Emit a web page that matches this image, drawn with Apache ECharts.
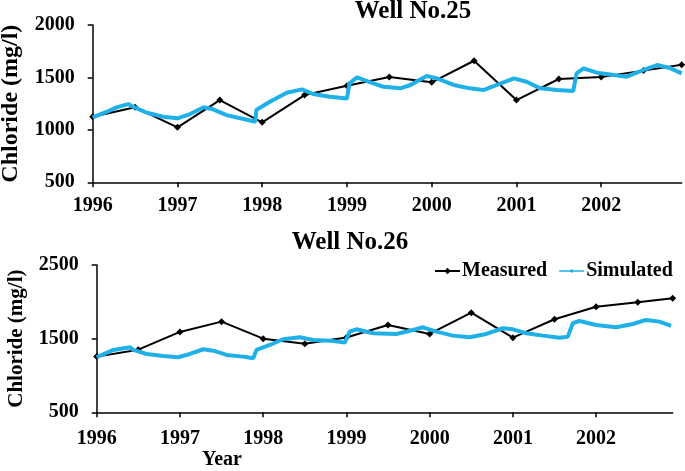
<!DOCTYPE html>
<html>
<head>
<meta charset="utf-8">
<script src="https://cdn.jsdelivr.net/npm/echarts@6/dist/echarts.min.js"></script>
<style>
html,body{margin:0;padding:0;background:#fff;}
#c{width:685px;height:471px;}
</style>
</head>
<body>
<div id="c"></div>
<script>
// ---- data ----
const xTickLabels = [1996, 1997, 1998, 1999, 2000, 2001, 2002];

const measYears25 = [1996, 1996.5, 1997, 1997.5, 1998, 1998.5, 1999, 1999.5, 2000, 2000.5, 2001, 2001.5, 2002, 2002.5, 2002.95];
const measured25 = [1125, 1215, 1024, 1284, 1072, 1332, 1421, 1505, 1453, 1659, 1284, 1485, 1504, 1565, 1620];

const simYears25 = [1996.0, 1996.17, 1996.28, 1996.42, 1996.46, 1996.64, 1996.83, 1997.0, 1997.15, 1997.31, 1997.42, 1997.58, 1997.78, 1997.92, 1997.93, 1998.09, 1998.29, 1998.47, 1998.6, 1998.8, 1999.0, 1999.03, 1999.12, 1999.27, 1999.43, 1999.63, 1999.75, 1999.94, 2000.06, 2000.26, 2000.45, 2000.61, 2000.77, 2000.97, 2001.12, 2001.28, 2001.48, 2001.67, 2001.71, 2001.79, 2001.95, 2002.15, 2002.3, 2002.5, 2002.66, 2002.82, 2002.95];
const simulated25 = [1119, 1173, 1215, 1246, 1227, 1163, 1125, 1110, 1151, 1215, 1196, 1141, 1103, 1078, 1189, 1268, 1354, 1386, 1342, 1316, 1300, 1444, 1501, 1455, 1411, 1396, 1428, 1513, 1491, 1428, 1396, 1380, 1428, 1491, 1459, 1396, 1380, 1370, 1539, 1587, 1545, 1523, 1507, 1571, 1618, 1587, 1539];

const measYears26 = [1996, 1996.5, 1997, 1997.5, 1998, 1998.5, 1999, 1999.5, 2000, 2000.5, 2001, 2001.5, 2002, 2002.5, 2002.92];
const measured26 = [1256, 1350, 1591, 1731, 1500, 1430, 1515, 1686, 1564, 1853, 1513, 1763, 1934, 1994, 2048];

const simYears26 = [1996.0, 1996.2, 1996.4, 1996.44, 1996.6, 1996.8, 1996.98, 1997.12, 1997.28, 1997.4, 1997.56, 1997.76, 1997.88, 1997.92, 1998.08, 1998.24, 1998.44, 1998.6, 1998.8, 1998.98, 1999.04, 1999.12, 1999.32, 1999.6, 1999.8, 1999.92, 2000.08, 2000.28, 2000.48, 2000.68, 2000.88, 2001.0, 2001.16, 2001.36, 2001.56, 2001.66, 2001.72, 2001.8, 2002.0, 2002.24, 2002.44, 2002.6, 2002.76, 2002.9];
const simulated26 = [1247, 1347, 1383, 1347, 1292, 1265, 1247, 1292, 1356, 1337, 1279, 1256, 1234, 1347, 1414, 1492, 1519, 1482, 1473, 1446, 1595, 1627, 1573, 1564, 1618, 1654, 1595, 1541, 1519, 1564, 1641, 1627, 1573, 1541, 1513, 1527, 1709, 1740, 1686, 1654, 1699, 1754, 1731, 1672];

// ---- chart ----
const FONT = '"Liberation Serif", "Times New Roman", serif';
const BLUE = '#1fb0e8';
const zip = (xs, ys) => xs.map((x, i) => [x, ys[i]]);
const plain = v => String(Math.round(v));

function mkX(idx, max, margin) {
  return {
    type: 'value', gridIndex: idx, min: 1996, max: max,
    axisLine: {show: true, lineStyle: {color: '#000', width: 1.5}},
    axisTick: {show: true, inside: false, length: 5, lineStyle: {color: '#000', width: 1.5}, customValues: xTickLabels},
    axisLabel: {show: true, margin: margin, fontFamily: FONT, fontSize: 20, fontWeight: 'bold', color: '#000', customValues: xTickLabels, formatter: plain},
    splitLine: {show: false}
  };
}
function mkY(idx, min, max, interval, nameSize) {
  return {
    type: 'value', gridIndex: idx, min: min, max: max, interval: interval,
    name: 'Chloride (mg/l)', nameLocation: 'middle', nameGap: 70,
    nameTextStyle: {fontFamily: FONT, fontSize: nameSize, fontWeight: 'bold', color: '#000'},
    axisLine: {show: true, lineStyle: {color: '#000', width: 1.5}},
    axisTick: {show: true, inside: false, length: 5, lineStyle: {color: '#000', width: 1.5}},
    axisLabel: {margin: 18, fontFamily: FONT, fontSize: 20, fontWeight: 'bold', color: '#000', formatter: plain},
    splitLine: {show: false}
  };
}
function measSeries(idx, data) {
  return {
    name: 'Measured', type: 'line', xAxisIndex: idx, yAxisIndex: idx, data: data,
    symbol: 'diamond', symbolSize: 7, showAllSymbol: true,
    itemStyle: {color: '#000'}, lineStyle: {color: '#000', width: 2}, z: 3
  };
}
function simSeries(idx, data) {
  return {
    name: 'Simulated', type: 'line', xAxisIndex: idx, yAxisIndex: idx, data: data,
    symbol: 'none', itemStyle: {color: BLUE}, lineStyle: {color: BLUE, width: 4}, z: 4
  };
}

const chart = echarts.init(document.getElementById('c'));
chart.setOption({
  animation: false,
  backgroundColor: '#fff',
  textStyle: {fontFamily: FONT},
  grid: [
    {left: 92.7, right: 3.3, top: 25, height: 157.3, containLabel: false, outerBoundsMode: 'none'},
    {left: 96.7, right: 12.3, top: 265, height: 147.3, containLabel: false, outerBoundsMode: 'none'}
  ],
  xAxis: [mkX(0, 2002.95, 14), mkX(1, 2002.92, 17)],
  yAxis: [mkY(0, 500, 2000, 500, 24), mkY(1, 500, 2500, 1000, 21)],
  legend: {
    orient: 'horizontal', left: 434, top: 261, width: 260, padding: 0,
    itemWidth: 25, itemHeight: 8, itemGap: 12,
    textStyle: {fontFamily: FONT, fontSize: 20, fontWeight: 'bold', color: '#000', padding: [0, 0, 0, -3]},
    data: [
      'Measured',
      {name: 'Simulated', icon: 'path://M0,3.3H25V4.7H0Z M11.8,2.2H13.2V5.8H11.8Z M10.7,3.1H14.3V4.9H10.7Z'}
    ]
  },
  graphic: [
    {type: 'text', x: 413, y: 12, style: {text: 'Well No.25', font: 'bold 25px ' + FONT, fill: '#000', align: 'center', verticalAlign: 'middle'}},
    {type: 'text', x: 350, y: 243, style: {text: 'Well No.26', font: 'bold 25px ' + FONT, fill: '#000', align: 'center', verticalAlign: 'middle'}},
    {type: 'text', x: 222, y: 460, style: {text: 'Year', font: 'bold 20px ' + FONT, fill: '#000', align: 'center', verticalAlign: 'middle'}}
  ],
  series: [
    measSeries(0, zip(measYears25, measured25)),
    simSeries(0, zip(simYears25, simulated25)),
    measSeries(1, zip(measYears26, measured26)),
    simSeries(1, zip(simYears26, simulated26))
  ]
});
</script>
</body>
</html>
